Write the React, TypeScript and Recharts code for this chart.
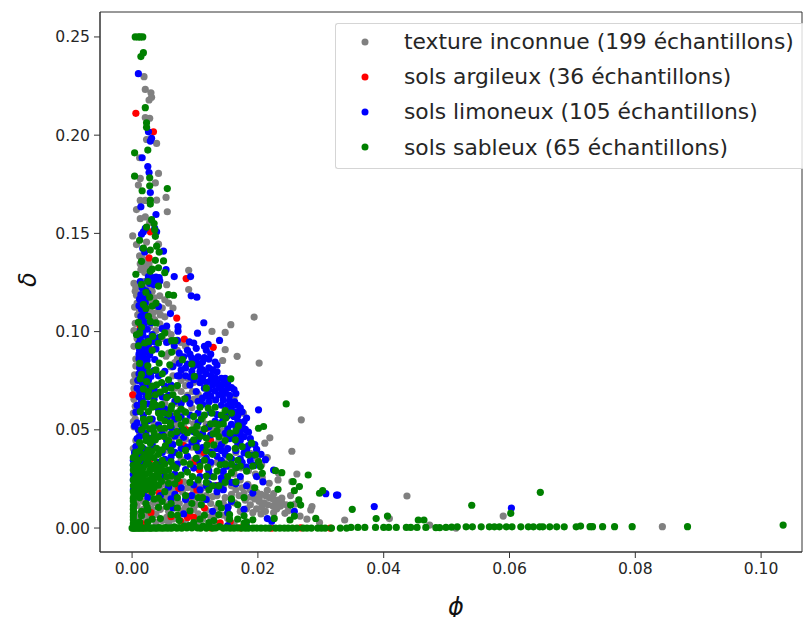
import React from "react";
import { ScatterChart, Scatter, XAxis, YAxis, Legend, ReferenceArea } from "recharts";

type P = [number, number];

const xTicks = [0, 0.02, 0.04, 0.06, 0.08, 0.1];
const yTicks = [0, 0.05, 0.1, 0.15, 0.2, 0.25];

const grayPts: P[] = [
[.0019,.2298],[.0021,.2233],[.003,.2216],[.0031,.2193],[.0027,.2179],[.0021,.209],[.0028,.2086],[.0023,.1978],[.0039,.1958],[.0012,.1885],[.0042,.1805],[.0013,.178],[.0037,.1757],[.001,.1746],[.0054,.1683],[.0013,.1668],[.0021,.1668],[.0039,.1669],[.0007,.1621],[.0056,.161],[.0013,.1575],[.0021,.1584],[.0028,.1555],[.0001,.1487],[.0023,.1456],[.0007,.1443],[.0042,.1445],[.0012,.1385],[.0016,.1372],[.002,.1362],[.0013,.1345],[.0018,.1335],[.0024,.1328],[.0014,.1315],[.002,.1302],[.0027,.1345],[.009,.1312],[.0055,.1239],[.009,.1214],[.0006,.1225],[.0007,.1185],[.0008,.1145],[.0012,.1105],[.0042,.1103],[.0058,.1145],[.0065,.112],[.0033,.1095],[.0045,.1085],[.0052,.1075],[.0005,.1042],[.0194,.1074],[.0157,.1035],[.0148,.0996],[.0127,.1001],[.0148,.0908],[.0167,.0874],[.0202,.084],[.0144,.0853],[.0006,.086],[.0062,.082],[.0004,.078],[.0078,.0752],[.0085,.0725],[.0003,.071],[.0096,.0695],[.0105,.068],[.0005,.062],[.0162,.0665],[.0125,.065],[.0177,.0585],[.0269,.0551],[.0076,.0598],[.0002,.0542],[.0012,.048],[.0219,.0459],[.0211,.0432],[.0254,.0391],[.0215,.0359],[.0075,.0452],[.0148,.041],[.0165,.0385],[.0178,.0405],[.0188,.038],[.0199,.0352],[.0206,.0322],[.0262,.0275],[.0254,.0236],[.0232,.0245],[.0233,.0279],[.0218,.0228],[.0207,.0255],[.0196,.0275],[.0185,.0292],[.0173,.0306],[.0162,.0275],[.0172,.0245],[.0184,.0222],[.0192,.0205],[.0198,.0182],[.0205,.0172],[.0212,.0165],[.0218,.0155],[.0224,.0148],[.0232,.0142],[.0238,.0128],[.0195,.0148],[.0202,.0135],[.021,.0128],[.0216,.0118],[.0224,.0112],[.0206,.0105],[.0188,.0118],[.018,.0142],[.017,.0165],[.0163,.0128],[.0153,.0108],[.0145,.0126],[.0135,.0105],[.0212,.0085],[.0225,.0078],[.0243,.0075],[.0286,.0109],[.0284,.0092],[.0267,.0061],[.0038,.0205],[.0048,.0225],[.0055,.0215],[.0058,.0185],[.0062,.0165],[.0068,.018],[.0052,.0155],[.0072,.0145],[.008,.0185],[.0088,.0205],[.0095,.021],[.0108,.0185],[.0118,.0165],[.0128,.016],[.0112,.014],[.0125,.0125],[.0012,.0148],[.0018,.0095],[.0025,.0118],[.0034,.013],[.0012,.0072],[.002,.0065],[.0045,.0095],[.0058,.0085],[.0068,.0102],[.0078,.0088],[.0088,.0125],[.0098,.0095],[.0105,.0072],[.0118,.009],[.0125,.0058],[.0145,.0065],[.0152,.0048],[.0021,.0032],[.0048,.0038],[.0065,.0045],[.0338,.0041],[.0409,.0048],[.0437,.0163],[.0473,.0015],[.0515,0],[.059,.0061],[.0843,.0007],[.0298,.0028],[.0259,.0122],[.0278,.0045],
];

const grayExtra: P[] = [
[.0003,.1245],[.0005,.1205],[.0012,.1165],[.0004,.1125],[.0009,.1085],[.0003,.1005],[.0008,.0965],[.0003,.0925],[.0006,.0825],[.0002,.0745],[.0005,.0695],[.0003,.0655],[.0002,.0585],[.0005,.0555],[.0003,.0515],[.0006,.0445],[.0002,.0405],[.0004,.0375],
[.003,.115],[.0038,.113],[.0048,.112],[.0036,.106],[.0044,.104],[.0056,.1],[.0062,.0985],[.0058,.089],[.0072,.086],[.0065,.0775],[.0072,.0725],[.0078,.0695],[.0088,.0675],[.0098,.0655],[.0058,.0605],[.0082,.0595],[.0088,.0545],[.0112,.0555],[.0118,.0528],[.0128,.0505],[.0142,.0495],[.0058,.0395],[.0078,.0348],[.0095,.0345],[.0108,.0375],[.0148,.0465],[.0152,.0365],[.0158,.0305],[.0135,.0335],[.0125,.0325],
[.0068,.0245],[.0082,.0235],[.0058,.024],[.0072,.0212],[.0065,.0195],[.0045,.0195],[.0052,.0172],[.0042,.0128],[.0058,.012],[.0075,.0125],[.0102,.012],[.0092,.0078],[.0032,.0095],[.0028,.0055],[.0038,.007],[.0055,.0055],[.0072,.0052],[.0112,.0045],[.0135,.0065],[.0192,.0168],[.0188,.0195],[.0202,.015],[.0215,.0192],[.0225,.0175],[.0208,.0118],[.0198,.0098],[.023,.0098],[.0236,.0112],
];

const grayFill: P[] = [
[.0018,.1255],[.0022,.1232],[.0028,.1218],[.0032,.1205],[.0018,.1188],[.0024,.1175],[.003,.1132],[.0035,.1172],[.0044,.1182],[.0052,.1162],[.0026,.1102],[.0032,.1072],[.0028,.1025],[.0038,.1005],[.0048,.0965],[.0058,.095],[.0078,.0945],[.0085,.0925],[.0072,.0905],[.0054,.0875],[.0068,.0842],[.0078,.0782],[.0088,.0762],[.0098,.0742],[.0068,.0712],[.0082,.0655],[.0072,.0635],[.0052,.0635],[.0095,.0612],[.0062,.0572],[.0072,.0535],[.0098,.0532],[.0108,.0498],[.0082,.0518],[.0068,.0508],[.0058,.0478],[.0045,.0502],[.0035,.0528],[.0062,.0445],[.0085,.0452],[.0095,.0412],[.0122,.0435],[.0138,.0442],[.0128,.0405],[.0152,.0335],[.0145,.0268],[.0152,.0245],[.0158,.0215],[.0145,.0205],[.0135,.0165],[.0148,.0155],[.0158,.0172],[.0165,.0195],[.0175,.0205],[.0178,.0178],[.0188,.0158],[.0182,.0098],[.0172,.0085],[.0192,.0078],[.0205,.0072],[.0228,.0122],[.0238,.0152],[.0245,.0118],[.0248,.0088],[.0252,.0165],[.0105,.0225],[.0112,.0205],[.0098,.0185],[.0085,.0105],[.0095,.0145],[.0068,.0135],[.0028,.0165],[.0018,.0135],[.0008,.0115],[.0008,.0052],[.0038,.0028],[.0058,.0028],[.0085,.0025],[.0105,.0028],[.0132,.0025],[.0162,.0022],
];

const redPts: P[] = [
[.0006,.2111],[.0034,.2017],[.0029,.1508],[.0027,.1375],[.0086,.127],[.0071,.1069],[.0083,.0962],[.0129,.092],[.0001,.0678],[.0082,.042],[.01,.0338],[.0114,.0384],[.0075,.0236],[.0074,.0202],[.0103,.0194],[.0092,.0163],[.0031,.0185],[.0043,.0177],[.003,.0078],[.0091,.0066],[.0088,.0054],[.0098,.0054],[.0077,.0037],[.014,.0027],[.0156,.0032],[.0018,.002],[.0107,.0296],[.0135,.0216],[.0008,.0245],[.0086,.05],[.0118,.0508],[.0031,.0908],[.0013,.1023],[.0222,0],[.0315,0],[.0125,.0445],[.0028,.0345],[.005,.0468],[.0115,.0102],[.0062,.0058],[.0125,.0001],[.0172,.0001],[.0268,.0001],
];

const bluePts: P[] = [
[.001,.2313],[.0026,.2017],[.0031,.1984],[.0029,.197],[.0016,.1885],[.0025,.184],[.0027,.181],[.0029,.1708],[.0014,.1635],[.0038,.1596],[.0021,.1525],[.0018,.1508],[.0036,.1525],[.0039,.1508],[.0015,.1495],[.0017,.1423],[.002,.1405],[.005,.141],[.0054,.1315],[.0067,.128],[.0093,.128],[.0026,.128],[.0032,.1275],[.0038,.1278],[.0043,.1275],[.0025,.1262],[.0032,.1258],[.0038,.1255],[.0044,.1258],[.0028,.1245],[.0035,.1238],[.0041,.1242],[.0094,.1182],[.0103,.1175],[.0025,.1195],[.0021,.1165],[.0021,.1145],[.0042,.1128],[.002,.1105],[.002,.1085],[.0061,.1092],[.0018,.1065],[.002,.1045],[.003,.1045],[.0055,.1028],[.0048,.1015],[.0073,.1025],[.0073,.1002],[.0114,.1045],[.0104,.0992],[.0139,.0955],[.0032,.0985],[.0025,.0965],[.0042,.097],[.0016,.0945],[.0036,.0948],[.0055,.0945],[.0091,.0948],[.0098,.0942],[.0102,.0915],[.0072,.0955],[.0067,.0928],[.0115,.0925],[.0121,.0935],[.0118,.0905],[.0125,.0885],[.0012,.0905],[.0021,.0915],[.0011,.0885],[.0018,.0875],[.0028,.0882],[.0038,.0912],[.0011,.0862],[.0016,.0845],[.0024,.0855],[.0036,.0858],[.0092,.0885],[.0082,.0872],[.0105,.0872],[.0115,.0868],[.0122,.086],[.0132,.0845],[.0135,.083],[.0085,.0815],[.0098,.0825],[.0108,.0825],[.0122,.0815],[.0128,.0805],[.0078,.0805],[.0065,.0822],[.0012,.0815],[.0018,.0805],[.0011,.0785],[.0035,.0802],[.0095,.0798],[.0108,.0798],[.0118,.0785],[.0126,.0775],[.0105,.0772],[.0125,.0752],[.0118,.0742],[.0132,.0765],[.0128,.0728],[.0135,.0738],[.0145,.0735],[.0152,.0742],[.0158,.0715],[.0142,.0708],[.0132,.0698],[.0148,.0695],[.0138,.0678],[.0155,.0675],[.0125,.0672],[.0112,.0662],[.0102,.0695],[.0092,.0728],[.0062,.0728],[.0018,.0732],[.0028,.0722],[.0016,.0695],[.0011,.0668],[.0022,.067],[.0035,.0705],[.0048,.0668],[.0058,.0675],[.0068,.0645],[.0035,.0655],[.0015,.0645],[.0025,.0632],[.0092,.0635],[.0112,.063],[.0122,.0642],[.0133,.0652],[.0145,.0652],[.0155,.0648],[.0163,.0642],[.0172,.0612],[.0201,.0602],[.0158,.0615],[.0165,.0592],[.0162,.0568],[.0125,.0588],[.0135,.0578],[.0105,.0585],[.0092,.0575],[.006,.0575],[.0042,.0605],[.0018,.0575],[.0008,.0535],[.0018,.0518],[.0042,.0525],[.0062,.0512],[.0105,.0538],[.0132,.0545],[.0145,.0552],[.0158,.0528],[.0172,.0495],[.0152,.0505],[.0162,.0475],[.0178,.0465],[.0012,.0465],[.0022,.0482],[.0048,.048],[.0072,.0485],[.0098,.049],[.0112,.048],[.0125,.0475],[.0155,.0455],[.0172,.0445],[.0185,.042],[.0006,.0415],[.0018,.0405],[.0065,.0425],[.0078,.0405],[.0095,.0438],[.0112,.041],[.0142,.0425],[.0152,.0405],[.0165,.0395],[.0178,.0382],[.0192,.037],[.0048,.0385],[.0062,.0362],[.0088,.0365],[.0118,.0355],[.0135,.0365],[.0142,.0345],[.0158,.0352],[.0172,.0352],[.0188,.0342],[.0005,.0345],[.0018,.0328],[.0042,.0335],[.0072,.0325],[.0002,.0322],[.0004,.0285],[.0098,.0305],[.0122,.0292],[.0145,.0288],[.0225,.0295],[.0125,.0265],[.0108,.0262],[.0142,.0255],[.0172,.0262],[.0198,.0262],[.0208,.0235],[.0002,.0195],[.0078,.0205],[.0098,.022],[.0122,.0225],[.0135,.0185],[.0145,.0195],[.0045,.0165],[.0068,.0172],[.0085,.0145],[.0118,.0145],[.0158,.0135],[.0152,.0105],[.0178,.0095],[.0258,.0085],[.0152,.0078],[.0128,.0085],[.0065,.0102],[.0082,.0072],[.0215,.0048],[.0222,.0035],[.0152,.0012],[.0182,.0008],[.0325,.0168],[.0385,.0109],[.0603,.0102],[.0327,.0168],[.0308,.0175],
];

const blueExtra: P[] = [
[.0013,.1255],[.0016,.1222],[.0014,.1188],[.0017,.1142],[.0015,.1112],[.0014,.1078],[.0016,.1028],[.0017,.0985],[.0013,.0962],[.0015,.0925],[.002,.0895],[.0026,.0935],[.0014,.0838],[.0019,.0782],[.0013,.0758],[.0024,.0788],[.0017,.0712],[.0026,.0752],
[.0075,.089],[.0088,.0905],[.0095,.0865],[.0102,.0845],[.0112,.0845],[.0088,.0835],[.0075,.0838],[.0112,.0805],[.0135,.0795],[.0112,.0765],[.0122,.0702],[.0115,.0712],[.0138,.0718],[.0145,.0682],[.0118,.0675],[.0105,.0645],[.0088,.0665],[.0078,.0635],[.0152,.0622],[.0142,.0625],[.0155,.0595],[.0148,.0578],[.0168,.0545],[.0175,.0525],[.0165,.0515],[.018,.0502],[.0172,.0475],[.0148,.0482],[.0168,.0428],[.0182,.0398],
[.0008,.0625],[.0006,.059],[.0012,.0605],[.0004,.052],[.001,.05],[.0032,.0555],[.0052,.0605],[.0008,.0455],[.0028,.0458],[.0004,.0385],[.0012,.0375],[.0032,.0425],[.0055,.0445],[.0068,.0468],[.0082,.0462],[.0105,.0452],[.0135,.0405],[.0125,.0385],[.0105,.0395],[.0088,.0412],[.0068,.0385],[.0052,.035],[.0148,.0375],[.0125,.0335],[.0108,.0335],[.0085,.0298],[.0068,.0275],[.0052,.0265],[.0002,.0272],[.0002,.0245],[.015,.0315],[.0165,.0312],[.0182,.031],[.0195,.032],[.0118,.0215],[.0142,.0225],[.0095,.0165],[.0062,.0148],[.0018,.0178],[.0025,.0155],
];

const blueFill: P[] = [
[.0012,.1165],[.0011,.1132],[.0022,.1208],[.0018,.1122],[.0012,.1048],[.0013,.1005],[.0018,.1008],[.0024,.1012],[.0028,.0945],[.0015,.0982],[.0011,.0942],[.0024,.0905],[.0011,.0925],[.0016,.0892],[.0013,.0825],[.0022,.0828],[.0009,.0752],[.0015,.0745],[.0022,.0762],[.003,.0772],[.0042,.0775],[.0052,.0798],[.0042,.0688],[.0029,.0688],[.0052,.0722],[.0012,.0695],[.0008,.0712],[.0075,.0775],[.0085,.0775],[.0092,.077],[.0098,.0755],[.0072,.0775],[.0108,.074],[.0142,.0762],[.0148,.0762],[.0152,.0712],[.0162,.0705],[.0165,.0685],[.0158,.0638],[.0168,.0625],[.0175,.0592],[.0182,.056],[.0178,.0542],[.0168,.0572],[.0152,.0572],[.0142,.0535],[.0185,.0488],[.0188,.0455],[.0195,.0425],[.0198,.04],[.0205,.0375],[.0078,.0565],[.0068,.0555],[.0055,.0555],[.0025,.0545],[.0038,.0462],[.0078,.0495],[.0122,.0515],[.0058,.0412],[.0102,.0425],[.0142,.0395],[.0212,.0348],[.0175,.0335],[.0132,.0215],[.0158,.0232],[.0165,.0225],[.0182,.0215],[.0192,.0178],[.0058,.0208],[.0108,.0195],[.0002,.0345],[.0003,.0305],
];

const greenPts: P[] = [
[.0005,.25],[.001,.25],[.0013,.25],[.0017,.25],[.0018,.242],[.0014,.24],[.0021,.214],[.0023,.2063],[.0023,.204],[.0025,.1924],[.0004,.191],[.0004,.1791],[.0028,.1783],[.0028,.1742],[.0056,.1728],[.0016,.1717],[.0029,.1669],[.0029,.1649],[.0031,.157],[.0035,.155],[.0023,.1532],[.0036,.1518],[.0037,.1485],[.0012,.1465],[.0039,.1435],[.0043,.1405],[.005,.136],[.0037,.1363],[.0029,.1307],[.0006,.1292],[.0052,.13],[.0015,.124],[.0022,.12],[.0058,.1188],[.0066,.1185],[.001,.1047],[.0026,.1078],[.0029,.1052],[.0038,.1044],[.0007,.0984],[.0012,.0993],[.0026,.095],[.0033,.0976],[.0047,.0976],[.0052,.0993],[.0063,.0954],[.0068,.0954],[.001,.0928],[.0047,.0887],[.0063,.0896],[.008,.0857],[.0095,.0835],[.0025,.0826],[.0043,.084],[.006,.0831],[.0099,.0772],[.0157,.076],[.0013,.076],[.0023,.0746],[.0058,.0755],[.0047,.0741],[.0039,.0729],[.0118,.0712],[.0052,.0704],[.0065,.0678],[.0026,.0695],[.0026,.067],[.0037,.0678],[.0084,.0658],[.0018,.0636],[.0034,.064],[.0047,.0628],[.0063,.0622],[.0245,.0632],[.0108,.0615],[.0121,.061],[.0132,.0615],[.0148,.0598],[.0127,.0585],[.0013,.0593],[.0026,.0593],[.0042,.0585],[.005,.0585],[.0071,.0585],[.0045,.056],[.0061,.0535],[.0074,.056],[.0098,.0568],[.0132,.0532],[.0149,.056],[.0201,.0508],[.0209,.0517],[.0169,.052],[.0021,.0518],[.0034,.051],[.0103,.0518],[.0137,.0526],[.0061,.0522],[.0071,.0491],[.0095,.05],[.0129,.0479],[.0156,.0483],[.0164,.0449],[.019,.0432],[.0029,.0432],[.0037,.0449],[.0051,.0466],[.0026,.0398],[.0039,.0406],[.0053,.0418],[.0098,.0449],[.0108,.0466],[.0119,.0423],[.013,.0423],[.0164,.0406],[.0185,.0372],[.0196,.0372],[.0201,.0338],[.0204,.0313],[.0207,.0279],[.0228,.0292],[.0238,.0282],[.028,.0270],[.0266,.0211],[.0256,.0236],[.0258,.019],[.0232,.0197],[.0303,.019],[.0298,.0177],[.0265,.0143],[.0268,.0117],[.0252,.0117],[.0251,.0041],[.0258,.0061],[.0292,.0049],[.0226,.0049],
[.0021,.0375],[.0035,.0358],[.0048,.0345],[.0062,.0338],[.0082,.0335],[.0102,.0355],[.0115,.0345],[.0128,.0375],[.014,.0322],[.0158,.0325],[.0172,.0315],[.0008,.0335],[.0018,.036],[.0012,.031],[.0022,.0325],[.0032,.0305],[.0045,.031],[.0058,.0295],[.007,.0305],[.0088,.0285],[.0108,.0315],[.012,.031],[.0135,.029],[.0148,.0325],[.0002,.0295],[.0012,.028],[.0022,.0275],[.0032,.0265],[.0042,.028],[.0078,.027],[.0096,.0262],[.0118,.0265],[.013,.026],[.0002,.0245],[.0012,.0252],[.0022,.024],[.0035,.0235],[.0047,.0238],[.0118,.0232],[.0128,.0215],[.0165,.0235],[.0002,.0185],[.0003,.0165],[.0015,.021],[.0028,.0212],[.0035,.0205],[.0052,.0185],[.0072,.0155],[.0095,.0125],[.011,.0118],[.0138,.0125],[.0158,.0148],[.0178,.0155],[.0112,.0155],[.0062,.0125],[.0048,.0135],[.0035,.0148],[.0022,.0125],[.0002,.0138],[.0003,.012],[.0002,.0095],[.0003,.0078],[.0002,.0058],[.0002,.0042],[.0004,.0025],[.0015,.0085],[.0032,.0045],[.0062,.0068],[.0072,.0065],[.0092,.0088],[.0115,.0065],[.013,.0038],[.0155,.0068],[.0168,.0045],[.0182,.0032],[.0178,.0025],[.0142,.0102],[.0168,.0118],
[0,0],[.0002,0],[.0004,0],[.0006,0],[.0008,.0001],[.001,0],[.0012,0],[.0014,.0001],[.0016,0],[.0018,0],[.0021,0],[.0023,.0001],[.0026,0],[.0029,0],[.0031,0],[.0034,.0001],[.0037,0],[.004,0],[.0043,.0002],[.0046,0],[.005,0],[.0053,.0002],[.0056,0],[.006,.0001],[.0063,0],[.0067,.0006],[.0071,0],[.0075,.0002],[.0079,0],[.0083,.001],[.0087,.0001],[.0091,.0012],[.0095,.0001],[.0099,.0009],[.0104,.0001],[.0109,0],[.0113,.001],[.0118,0],[.0123,.0006],[.0128,0],[.0133,.0001],[.0139,.0007],[.0145,0],[.015,.0001],[.0156,0],[.0162,0],[.0168,.0001],[.0174,0],[.018,0],[.0185,0],[.0192,0],[.0198,0],[.0205,0],[.0212,0],[.0218,0],[.0228,0],[.0235,0],[.0242,0],[.0248,0],[.0255,0],[.0262,0],[.0272,0],[.0278,0],[.0285,0],[.0295,0],[.0301,0],[.0307,0],
[.0317,0],[.0331,0],[.0341,0],[.0348,.0003],[.0359,.0003],[.037,.0003],[.0387,.0003],[.04,.0003],[.0408,.0003],[.042,.0003],[.0436,.0003],[.0443,.0003],[.0453,.0003],[.0467,.0003],[.0483,.0002],[.0489,.0002],[.0499,.0003],[.0508,.0005],[.0517,.0006],[.0531,.0006],[.0541,.0006],[.0555,.0006],[.0568,.0006],[.0576,.0006],[.0584,.0006],[.0595,.0006],[.0604,.0006],[.0618,.0006],[.063,.0006],[.0638,.0006],[.0648,.0006],[.0653,.0006],[.0664,.0006],[.0675,.0006],[.0687,.0006],[.0706,.0006],[.0713,.001],[.0728,.0007],[.0732,.0007],[.0748,.0007],[.0767,.0007],[.0795,.0007],[.0883,.0007],[.1035,.0015],
[.035,.0095],[.0388,.0048],[.0406,.0061],[.0455,.0041],[.0464,.0041],[.054,.0116],[.0602,.0075],[.0649,.0182],
];

const greenExtra: P[] = [
[.0006,.0385],[.0015,.0415],[.0028,.0372],[.0042,.0375],[.0011,.0345],[.0025,.0348],[.0038,.0325],[.0052,.0325],[.0016,.0295],[.0028,.0292],[.0038,.0298],[.005,.0292],[.0008,.0265],[.0018,.0262],[.0028,.0245],[.0008,.0232],[.0018,.0222],[.0032,.0222],[.0042,.0218],[.0009,.0205],[.0022,.0195],[.0006,.0178],[.0015,.0172],[.0002,.0215],[.0062,.0265],[.0072,.0252],[.0058,.0228],[.0092,.0232],[.0105,.0245],[.0122,.0195],[.0105,.0155],[.0085,.0165],[.0042,.0105],[.0025,.0092],[.0055,.0108],[.0072,.0102],
[.0032,.0455],[.0042,.0465],[.0022,.0445],[.0012,.0435],[.0058,.0445],[.0075,.0435],[.0085,.0395],[.0102,.041],[.0138,.0465],[.0148,.0445],[.0062,.0395],[.0118,.0392],[.0155,.0362],[.0168,.0345],[.0035,.0485],[.0078,.0525],[.0088,.0485],[.0115,.0505],[.0145,.053],[.0165,.0495],[.0175,.0415],[.0018,.0555],[.0052,.0545],[.0085,.0545],[.0115,.0575],[.0142,.0575],[.0158,.0585],[.0062,.0605],[.0038,.0625],[.0055,.0665],[.0078,.0605],
];

const greenFill: P[] = [
[.0005,.0362],[.0012,.0392],[.0025,.0392],[.0032,.0392],[.0048,.0398],[.0075,.0372],[.0092,.0325],[.0065,.0315],[.0042,.0258],[.0055,.0262],[.0068,.0225],[.0008,.0315],[.0018,.0308],[.0028,.0322],[.0005,.0285],[.0005,.0255],[.0015,.0238],[.0025,.0222],[.0038,.0268],[.0005,.0218],[.0012,.0195],[.0032,.0182],[.0042,.0152],[.0012,.0155],[.0024,.0105],[.0015,.0062],[.0025,.003],[.0045,.0048],[.0075,.0038],[.0098,.0028],[.0108,.0045],[.0122,.0028],[.0012,.003],[.0002,.0112],[.0002,.0075],[.0002,.0022],[.0002,.0152],[.0002,.032],[.0002,.0358],[.0165,.0305],[.0182,.029],[.0192,.0315],[.0158,.0282],[.0152,.0262],[.0148,.0232],[.0138,.0215],[.0195,.0205],[.0155,.0045],[.0178,.0062],[.0192,.0042],[.0138,.0068],
[.002,.0538],[.0028,.0555],[.0052,.0508],[.0015,.05],[.0028,.0505],[.0045,.0508],[.0022,.0468],[.0062,.0478],[.0082,.0498],[.0102,.0482],[.0118,.0458],[.0135,.0495],[.0125,.053],[.011,.0555],[.0058,.058],[.0085,.059],[.0018,.0615],[.0032,.0615],[.0072,.0655],[.0045,.0692],[.0032,.0722],[.0018,.0708],[.0015,.0782],[.0028,.0795],[.0048,.0785],[.0062,.0712],[.0072,.0725],[.0012,.0838],[.0038,.0805],[.0032,.0905],[.0042,.0942],[.002,.0942],[.0015,.1022],[.0022,.1118],[.0032,.113],[.0028,.1175],[.0018,.1138],[.0038,.1145],[.0042,.1232],[.0025,.1255],[.0032,.1318],[.0015,.1358],[.0042,.1325],[.0029,.1415],[.0018,.1425],
];

const series = [
  { name: "texture inconnue (199 échantillons)", color: "#808080", points: [...grayPts, ...grayExtra, ...grayFill] },
  { name: "sols argileux (36 échantillons)", color: "#ff0000", points: redPts },
  { name: "sols limoneux (105 échantillons)", color: "#0000ff", points: [...bluePts, ...blueExtra, ...blueFill] },
  { name: "sols sableux (65 échantillons)", color: "#008000", points: [...greenPts, ...greenExtra, ...greenFill] },
];

const FONT = "DejaVu Sans";
const INK = "#262626";

const dot = (color: string) => (p: any) => <circle cx={p.cx} cy={p.cy} r={3.6} fill={color} />;

const LegendBox = () => (
  <div style={{
    boxSizing: "border-box", width: 468, height: 146, background: "rgba(255,255,255,0.8)",
    border: "1px solid #d5d5d5", borderRight: "none", borderRadius: "3px 0 0 3px", fontFamily: FONT, fontSize: 21.8, color: INK,
  }}>
    {series.map((s) => (
      <div key={s.name} style={{ display: "flex", alignItems: "center", height: 35.2, whiteSpace: "nowrap" }}>
        <svg width={68} height={10} style={{ flex: "none" }}>
          <circle cx={29} cy={5} r={3.5} fill={s.color} />
        </svg>
        <span>{s.name}</span>
      </div>
    ))}
  </div>
);

export default function App() {
  return (
    <div style={{ position: "absolute", left: 0, top: 0, width: 803, height: 617, overflow: "hidden", background: "#fff" }}>
      <ScatterChart width={803} height={617} margin={{ top: 12, right: 1, bottom: 0, left: 0 }}>
        <XAxis
          type="number" dataKey="phi" domain={[-0.0051, 0.1065]} ticks={xTicks} allowDataOverflow
          tickFormatter={(v: number) => v.toFixed(2)} height={65} interval={0}
          stroke="#333" tickSize={6} tickMargin={5}
          tick={{ fontFamily: FONT, fontSize: 15.6, fill: INK }}
          label={{ value: "ϕ", position: "insideBottom", offset: 2, dx: 5, style: { fontFamily: FONT, fontStyle: "italic", fontSize: 24, fill: "#111" } }}
        />
        <YAxis
          type="number" dataKey="delta" domain={[-0.0122, 0.2627]} ticks={yTicks} allowDataOverflow
          tickFormatter={(v: number) => v.toFixed(2)} width={100} interval={0}
          stroke="#333" tickSize={6} tickMargin={4}
          tick={{ fontFamily: FONT, fontSize: 15.6, fill: INK }}
          label={{ value: "δ", angle: -90, position: "insideLeft", offset: 27, dy: 5, style: { fontFamily: FONT, fontStyle: "italic", fontSize: 24, fill: "#111" } }}
        />
        {series.map((s) => (
          <Scatter
            key={s.name} name={s.name} fill={s.color} isAnimationActive={false}
            data={s.points.map(([phi, delta]) => ({ phi, delta }))}
            shape={dot(s.color)}
          />
        ))}
        <ReferenceArea x1={-0.0051} x2={0.1065} y1={-0.0122} y2={0.2627} fill="none" stroke="#333" strokeWidth={1} ifOverflow="visible" />
        <Legend layout="horizontal" verticalAlign="middle" content={<LegendBox />} wrapperStyle={{ position: "absolute", left: 335, top: 23, width: 468, height: 146, margin: 0 }} />
      </ScatterChart>
    </div>
  );
}
